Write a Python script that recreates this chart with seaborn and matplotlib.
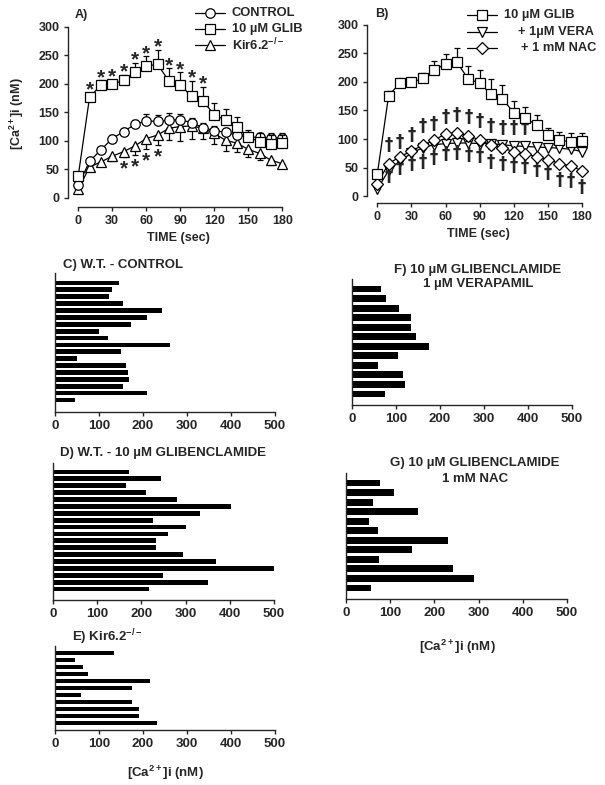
import numpy as np
import pandas as pd
import matplotlib
matplotlib.use("Agg")
import matplotlib.pyplot as plt
import seaborn as sns
from matplotlib.lines import Line2D

# ---------------- data ----------------
TIME = list(range(0, 181, 10))
CONTROL = [22, 64, 84, 104, 116, 129, 135, 134, 136, 137, 132, 123, 118, 115, 110, 107, 106, 105, 105]
CONTROL_ERR = [5, 6, 6, 6, 7, 8, 12, 12, 12, 10, 8, 8, 8, 8, 8, 8, 8, 8, 8]
GLIB = [38, 176, 198, 199, 206, 221, 231, 234, 205, 198, 178, 170, 146, 136, 125, 107, 98, 95, 97]
GLIB_ERR = [4, 8, 8, 8, 10, 15, 17, 25, 22, 22, 27, 25, 20, 20, 17, 12, 15, 15, 14]
KIR = [15, 54, 63, 73, 81, 91, 104, 110, 122, 125, 126, 122, 113, 101, 96, 85, 78, 66, 60]
KIR_ERR = [3, 5, 5, 8, 10, 15, 18, 18, 20, 25, 22, 18, 18, 18, 16, 14, 12, 8, 5]
VERA = [12, 45, 62, 75, 85, 90, 92, 93, 93, 92, 92, 90, 88, 87, 86, 85, 84, 82, 78]
VERA_ERR = [3, 5, 5, 5, 6, 6, 6, 6, 6, 6, 5, 5, 5, 5, 5, 5, 5, 5, 5]
NAC = [22, 57, 69, 79, 89, 98, 109, 111, 105, 99, 89, 84, 78, 74, 69, 64, 57, 53, 44]
NAC_ERR = [3, 5, 5, 6, 6, 7, 8, 8, 8, 7, 6, 6, 6, 6, 6, 5, 5, 5, 5]

STAR_GLIB_T = [10, 20, 30, 40, 50, 60, 70, 80, 90, 100, 110]
STAR_KIR_T = [40, 50, 60, 70]
DAGGER_UP_T = [10, 20, 30, 40, 50, 60, 70, 80, 90, 100, 110, 120, 130]
DAGGER_UP_Y = [89, 95, 107, 122, 127, 138, 142, 138, 132, 123, 119, 119, 119]
DAGGER_LO_T = list(range(10, 181, 10))
DAGGER_LO_Y = [35, 49, 57, 60, 66, 74, 75, 72, 70, 59, 56, 53, 51, 46, 41, 29, 27, 16]

C_VALS = [145, 130, 122, 155, 244, 209, 173, 100, 120, 261, 151, 51, 162, 165, 169, 154, 208, 45]
D_VALS = [172, 245, 166, 211, 281, 403, 332, 227, 302, 261, 233, 233, 293, 368, 500, 248, 350, 218]
E_VALS = [134, 45, 63, 76, 216, 175, 58, 174, 191, 191, 231]
F_VALS = [67, 78, 106, 134, 134, 145, 176, 105, 59, 116, 121, 75]
G_VALS = [77, 108, 60, 164, 51, 72, 230, 150, 74, 243, 290, 56]

TIME_TICKS = [0, 30, 60, 90, 120, 150, 180]
CA_TICKS = [0, 50, 100, 150, 200, 250, 300]
BAR_TICKS = [0, 100, 200, 300, 400, 500]

YLABEL = r"[Ca$^{\mathbf{2+}}$]i (nM)"
XLABEL_TIME = "TIME (sec)"

# ---------------- style ----------------
sns.set_style("ticks")
plt.rcParams["font.family"] = ["Liberation Sans", "DejaVu Sans"]
plt.rcParams["font.weight"] = "bold"
plt.rcParams["axes.labelweight"] = "bold"
plt.rcParams["mathtext.fontset"] = "custom"
plt.rcParams["mathtext.rm"] = "Liberation Sans:bold"
plt.rcParams["mathtext.bf"] = "Liberation Sans:bold"
plt.rcParams["mathtext.it"] = "Liberation Sans:bold"
plt.rcParams["axes.linewidth"] = 1.0
plt.rcParams["xtick.major.width"] = 1.0
plt.rcParams["ytick.major.width"] = 1.0
plt.rcParams["xtick.major.size"] = 3
plt.rcParams["ytick.major.size"] = 3
plt.rcParams["xtick.direction"] = "out"
plt.rcParams["ytick.direction"] = "out"

FS = 9
FS_BAR = 9.5
W, H = 605, 785
fig = plt.figure(figsize=(W / 100, H / 100), dpi=100)
fig.patch.set_facecolor("white")


def px_axes(l, t, r, b):
    return fig.add_axes([l / W, 1 - b / H, (r - l) / W, (b - t) / H])


def fig_text(x, y, s, **kw):
    kw.setdefault("fontsize", FS)
    kw.setdefault("fontweight", "bold")
    fig.text(x / W, 1 - y / H, s, **kw)


def legend_row(x0, x1, y, marker, label, tx, ms=6.8):
    fig.add_artist(Line2D([x0 / W, x1 / W], [1 - y / H, 1 - y / H], color="black", lw=0.9,
                          transform=fig.transFigure))
    fig.add_artist(Line2D([(x0 + x1) / 2 / W], [1 - y / H], marker=marker, ms=ms,
                          mfc="white", mec="black", mew=0.9, color="black",
                          transform=fig.transFigure))
    fig_text(tx, y, label, ha="left", va="center", fontsize=9.3)


def series(ax, t, v, err, marker, direction, ms=6.8, z=3):
    df = pd.DataFrame({"t": t, "v": v})
    lo = [0] * len(err) if direction == "up" else err
    hi = err if direction == "up" else [0] * len(err)
    ax.errorbar(t, v, yerr=[lo, hi], fmt="none", ecolor="black", elinewidth=0.9,
                capsize=2, capthick=0.9, zorder=z - 1)
    sns.lineplot(data=df, x="t", y="v", ax=ax, color="black", lw=0.9, marker=marker,
                 markersize=ms, markerfacecolor="white", markeredgecolor="black",
                 markeredgewidth=0.9, zorder=z)


def time_axes(ax, ylim_bottom):
    ax.set_xlim(-9, 186)
    ax.set_ylim(ylim_bottom, 310)
    ax.set_xticks(TIME_TICKS)
    ax.set_yticks(CA_TICKS)
    ax.spines["left"].set_bounds(0, 300)
    ax.spines["bottom"].set_bounds(0, 180)
    sns.despine(ax=ax)
    ax.tick_params(labelsize=FS, pad=3)
    for lab in ax.get_xticklabels() + ax.get_yticklabels():
        lab.set_fontweight("bold")
    ax.set_xlabel(XLABEL_TIME, fontsize=FS, fontweight="bold", labelpad=3)
    ax.set_ylabel("")


# ---------------- panel A ----------------
axA = px_axes(68, 21, 289, 207)
series(axA, TIME, KIR, KIR_ERR, "^", "down", z=3)
series(axA, TIME, CONTROL, CONTROL_ERR, "o", "up", z=4)
series(axA, TIME, GLIB, GLIB_ERR, "s", "up", ms=6.5, z=5)
time_axes(axA, -16)
axA.set_ylabel(YLABEL, fontsize=FS, fontweight="bold", labelpad=9)
for t in STAR_GLIB_T:
    i = TIME.index(t)
    axA.text(t, GLIB[i] + GLIB_ERR[i] + 5, "*", ha="center", va="center", fontsize=15,
             fontweight="bold")
for t in STAR_KIR_T:
    i = TIME.index(t)
    axA.text(t, KIR[i] - KIR_ERR[i] - 21, "*", ha="center", va="center", fontsize=15,
             fontweight="bold")
fig_text(75, 15, "A)", ha="left", va="center")
legend_row(195, 225, 13, "o", "CONTROL", 232)
legend_row(195, 225, 29, "s", "10 µM GLIB", 232, ms=6.5)
legend_row(195, 225, 45, "^", r"Kir6.2$^{\mathbf{-/-}}$", 232)

# ---------------- panel B ----------------
axB = px_axes(367, 19, 589, 203)
series(axB, TIME, VERA, VERA_ERR, "v", "up", z=3)
series(axB, TIME, NAC, NAC_ERR, "D", "down", ms=6.3, z=4)
series(axB, TIME, GLIB, GLIB_ERR, "s", "up", ms=6.5, z=5)
time_axes(axB, -12)
for t, y in zip(DAGGER_UP_T + DAGGER_LO_T, DAGGER_UP_Y + DAGGER_LO_Y):
    axB.text(t, y, "†", ha="center", va="center", fontsize=12, fontweight="bold",
             family="DejaVu Sans")
fig_text(375, 14, "B)", ha="left", va="center")
legend_row(467, 497, 15, "s", "10 µM GLIB", 504, ms=6.5)
legend_row(467, 497, 32, "v", "+ 1µM VERA", 518)
legend_row(467, 497, 48, "D", "+ 1 mM NAC", 521, ms=6.3)


# ---------------- bar panels ----------------
def bar_panel(rect, vals, top_u, bot_u, width):
    ax = px_axes(*rect)
    n = len(vals)
    df = pd.DataFrame({"cell": [f"c{i}" for i in range(n)], "v": vals})
    sns.barplot(data=df, x="v", y="cell", orient="h", color="black", saturation=1,
                width=width, ax=ax, linewidth=0)
    ax.set_xlim(0, 500)
    ax.set_ylim(n - 1 + bot_u, -top_u)
    ax.set_xticks(BAR_TICKS)
    ax.set_yticks([])
    ax.set_xlabel("")
    ax.set_ylabel("")
    sns.despine(ax=ax)
    ax.tick_params(axis="x", labelsize=FS_BAR, pad=3, length=3)
    for lab in ax.get_xticklabels():
        lab.set_fontweight("bold")
    return ax


bar_panel((55, 273, 275, 412), C_VALS, 1.45, 1.75, 0.7)
fig_text(63, 265, "C) W.T. - CONTROL", ha="left", va="center", fontsize=FS_BAR)

bar_panel((53, 463, 274, 600), D_VALS, 1.3, 1.6, 0.7)
fig_text(60, 453, "D) W.T. - 10 µM GLIBENCLAMIDE", ha="left", va="center", fontsize=FS_BAR)

bar_panel((55, 646, 275, 730), E_VALS, 1.0, 1.0, 0.7)
fig_text(72, 637, r"E) Kir6.2$^{\mathbf{-/-}}$", ha="left", va="center", fontsize=FS_BAR)
fig_text(165, 773, YLABEL, ha="center", va="center", fontsize=FS_BAR)

bar_panel((352, 279, 572, 405), F_VALS, 1.05, 1.15, 0.72)
fig_text(478, 270, "F) 10 µM GLIBENCLAMIDE", ha="center", va="center", fontsize=FS_BAR)
fig_text(478, 284, "1 µM VERAPAMIL", ha="center", va="center", fontsize=FS_BAR)

bar_panel((346, 473, 567, 599), G_VALS, 1.05, 1.15, 0.72)
fig_text(475, 463, "G) 10 µM GLIBENCLAMIDE", ha="center", va="center", fontsize=FS_BAR)
fig_text(475, 479, "1 mM NAC", ha="center", va="center", fontsize=FS_BAR)
fig_text(457, 647, YLABEL, ha="center", va="center", fontsize=FS_BAR)

fig.savefig("out.png", dpi=100, facecolor="white")
